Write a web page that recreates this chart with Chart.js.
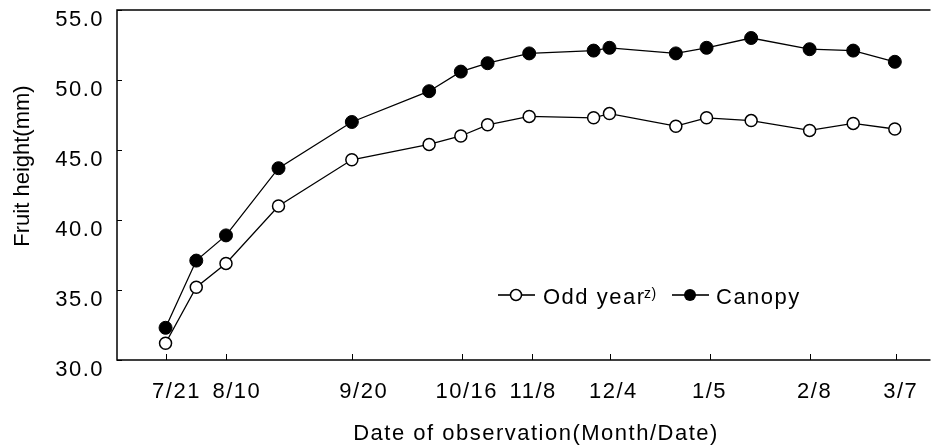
<!DOCTYPE html>
<html>
<head>
<meta charset="utf-8">
<script src="https://cdn.jsdelivr.net/npm/chart.js@4.4.1/dist/chart.umd.min.js"></script>
<style>
  html, body { margin: 0; padding: 0; background: #fff; }
  #wrap { width: 938px; height: 448px; }
</style>
</head>
<body>
<div id="wrap"><canvas id="chart" width="938" height="448"></canvas></div>
<script>
// Observation positions along the drawn date axis (the axis is not linear in days)
const obsPos = [49, 80, 110, 163, 237, 315, 347, 374, 416, 481, 497, 564, 595, 640, 699, 743, 785];
const oddYear = [31.2, 35.2, 36.9, 41.0, 44.3, 45.4, 46.0, 46.8, 47.4, 47.3, 47.6, 46.7, 47.3, 47.1, 46.4, 46.9, 46.5];
const canopy = [32.3, 37.1, 38.9, 43.7, 47.0, 49.2, 50.6, 51.2, 51.9, 52.1, 52.3, 51.9, 52.3, 53.0, 52.2, 52.1, 51.3];

const dateLabels = ['7/21', '8/10', '9/20', '10/16', '11/8', '12/4', '1/5', '2/8', '3/7'];
const tickMarkPos = [49, 110, 237, 348, 419, 498, 598, 699, 786];
const labelPos = [60, 121, 249, 353, 420, 501, 598, 704, 791];
const yTicks = [30, 35, 40, 45, 50, 55];

const FONT = "'Liberation Sans', Arial, sans-serif";
const SPACING = '1.5px';

Chart.defaults.font.family = FONT;
Chart.defaults.font.size = 22;
Chart.defaults.color = '#000';

// frame, inner tick marks, axis titles and the in-plot legend
const decorations = {
    id: 'decorations',
    beforeLayout(chart) { chart.ctx.letterSpacing = SPACING; },
    beforeDraw(chart) { chart.ctx.letterSpacing = SPACING; },
    afterDraw(chart) {
        const { ctx, chartArea: a, scales: { x, y } } = chart;
        ctx.save();
        ctx.strokeStyle = '#000';
        ctx.lineWidth = 1.5;

        ctx.beginPath();
        ctx.moveTo(a.right, a.top);
        ctx.lineTo(a.left, a.top);
        ctx.lineTo(a.left, a.bottom);
        ctx.lineTo(a.right, a.bottom);
        ctx.stroke();

        ctx.lineWidth = 1;
        ctx.beginPath();
        tickMarkPos.forEach(v => {
            const px = Math.round(x.getPixelForValue(v)) + 0.5;
            ctx.moveTo(px, a.bottom);
            ctx.lineTo(px, a.bottom - 6);
        });
        yTicks.forEach(v => {
            const py = Math.round(y.getPixelForValue(v)) + 0.5;
            ctx.moveTo(a.left, py);
            ctx.lineTo(a.left + 5, py);
        });
        ctx.stroke();

        ctx.fillStyle = '#000';
        ctx.font = '22px ' + FONT;
        ctx.letterSpacing = SPACING;
        ctx.textAlign = 'center';
        ctx.textBaseline = 'alphabetic';
        ctx.fillText('Date of observation(Month/Date)', 536, 439.5);

        ctx.save();
        ctx.letterSpacing = '0px';
        ctx.translate(22.5, 166);
        ctx.rotate(-Math.PI / 2);
        ctx.textBaseline = 'middle';
        ctx.fillText('Fruit height(mm)', 0, 0);
        ctx.restore();

        // legend
        const ly = 295;
        ctx.strokeStyle = '#333';
        ctx.lineWidth = 2;
        ctx.beginPath();
        ctx.moveTo(498, ly); ctx.lineTo(535, ly);
        ctx.moveTo(672, ly); ctx.lineTo(709, ly);
        ctx.stroke();

        ctx.strokeStyle = '#000';
        ctx.lineWidth = 1.5;
        ctx.beginPath();
        ctx.arc(516, ly, 5.5, 0, Math.PI * 2);
        ctx.fillStyle = '#fff';
        ctx.fill();
        ctx.stroke();

        ctx.beginPath();
        ctx.arc(690, ly, 6, 0, Math.PI * 2);
        ctx.fillStyle = '#000';
        ctx.fill();

        ctx.textAlign = 'left';
        ctx.textBaseline = 'alphabetic';
        ctx.fillText('Odd year', 543, 304);
        ctx.fillText('Canopy', 716, 304);
        ctx.font = '14px ' + FONT;
        ctx.letterSpacing = '0.5px';
        ctx.fillText('z)', 644, 298);
        ctx.restore();
    }
};

new Chart(document.getElementById('chart'), {
    type: 'line',
    data: {
        datasets: [
            {
                label: 'Odd year',
                data: obsPos.map((p, i) => ({ x: p, y: oddYear[i] })),
                borderColor: '#000',
                borderWidth: 1.3,
                pointRadius: 6,
                pointBorderWidth: 1.5,
                pointBackgroundColor: '#fff',
                pointBorderColor: '#000',
            },
            {
                label: 'Canopy',
                data: obsPos.map((p, i) => ({ x: p, y: canopy[i] })),
                borderColor: '#000',
                borderWidth: 1.3,
                pointRadius: 6.5,
                pointBorderWidth: 1,
                pointBackgroundColor: '#000',
                pointBorderColor: '#000',
            },
        ],
    },
    options: {
        responsive: false,
        animation: false,
        layout: { padding: { top: 10, right: 0, bottom: 0, left: 0 } },
        plugins: { legend: { display: false }, tooltip: { enabled: false } },
        scales: {
            x: {
                type: 'linear',
                min: 0,
                max: 821,
                grid: { display: false, drawTicks: false },
                border: { display: false },
                afterBuildTicks: (axis) => {
                    axis.ticks = labelPos.map(v => ({ value: v }));
                },
                afterFit: (axis) => {
                    axis.height = 88;
                    axis.paddingLeft = 0;
                    axis.paddingRight = 0;
                },
                ticks: {
                    autoSkip: false,
                    maxRotation: 0,
                    padding: 19,
                    callback: (v, i) => dateLabels[i],
                },
            },
            y: {
                min: 30,
                max: 55,
                grid: { display: false, drawTicks: false },
                border: { display: false },
                afterFit: (axis) => {
                    axis.width = 117;
                    axis.paddingTop = 0;
                    axis.paddingBottom = 0;
                },
                ticks: {
                    stepSize: 5,
                    padding: 13,
                    labelOffset: 10,
                    callback: (v) => v.toFixed(1),
                },
            },
        },
    },
    plugins: [decorations],
});
</script>
</body>
</html>
